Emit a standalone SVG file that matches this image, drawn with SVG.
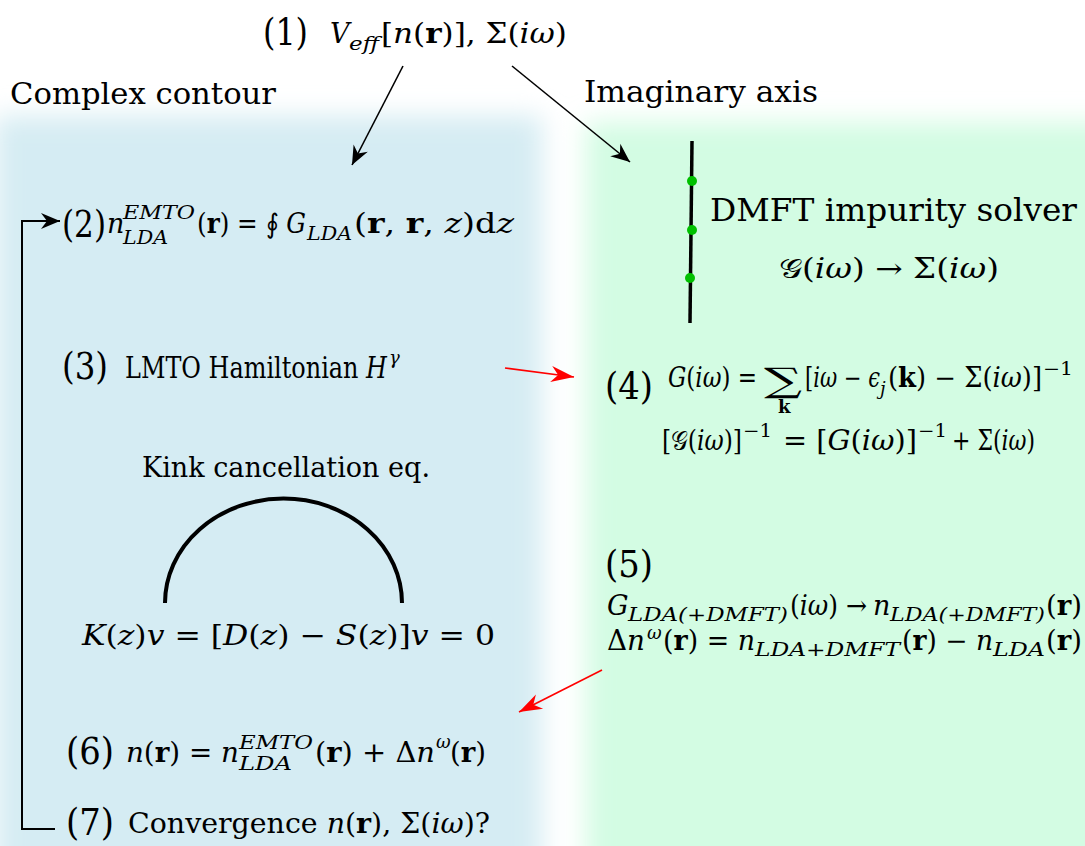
<svg xmlns="http://www.w3.org/2000/svg" width="1085" height="846" viewBox="0 0 1085 846" font-family="DejaVu Serif">
<style>
text{font-family:"DejaVu Serif","Liberation Serif",serif;fill:#000}
.i{font-style:italic}
.b{font-weight:bold}
.lbl{font-size:38px}
.m{font-size:27px}
.s{font-size:18px;font-style:italic}
.blk{stroke:#000;stroke-width:1.6;fill:none}
.red{stroke:#ff0000;stroke-width:1.6;fill:none}
</style>
<defs>
<filter id="blur" filterUnits="userSpaceOnUse" x="-100" y="0" width="1300" height="1000"><feGaussianBlur stdDeviation="13"/></filter>
<marker id="ah" viewBox="-20 -9 21 18" refX="0" refY="0" markerWidth="21" markerHeight="18" markerUnits="userSpaceOnUse" orient="auto"><path d="M0,0 L-19,-8 L-13,0 L-19,8 Z" fill="#000"/></marker>
<marker id="ahr" viewBox="-24 -9 25 18" refX="0" refY="0" markerWidth="25" markerHeight="18" markerUnits="userSpaceOnUse" orient="auto"><path d="M0,0 L-23,-8 L-16,0 L-23,8 Z" fill="#ff0000"/></marker>
</defs>
<rect width="1085" height="846" fill="#fff"/>
<g id="backgrounds" filter="url(#blur)">
<rect x="-5" y="116" width="547" height="780" fill="#d5ecf3"/>
<rect x="586" y="122" width="560" height="780" fill="#d3fce3"/>
</g>
<g id="connectors">
<line class="blk" x1="403" y1="66" x2="352" y2="165" marker-end="url(#ah)"/>
<line class="blk" x1="512" y1="66" x2="630" y2="162" marker-end="url(#ah)"/>
<line class="red" x1="505" y1="368" x2="574" y2="377" marker-end="url(#ahr)"/>
<line class="red" x1="602" y1="670" x2="519" y2="712" marker-end="url(#ahr)"/>
<path d="M55,829 H22 V221 H60" stroke="#000" stroke-width="2" fill="none" marker-end="url(#ah)"/>
</g>
<g id="n1">
<text class="lbl" x="263" y="45" textLength="45" lengthAdjust="spacingAndGlyphs">(1)</text>
<text class="m i" x="330" y="43">V</text>
<text class="s" x="349" y="50" textLength="30" lengthAdjust="spacingAndGlyphs">eff</text>
<text class="m" x="381" y="43" textLength="186" lengthAdjust="spacingAndGlyphs">[<tspan class="i">n</tspan>(<tspan class="b">r</tspan>)], Σ(<tspan class="i">iω</tspan>)</text>
</g>
<g id="labels">
<text x="10" y="104" font-size="29" textLength="266" lengthAdjust="spacingAndGlyphs">Complex contour</text>
<text x="584" y="102" font-size="29" textLength="234" lengthAdjust="spacingAndGlyphs">Imaginary axis</text>
</g>
<g id="n2">
<text class="lbl" x="62" y="237" textLength="44" lengthAdjust="spacingAndGlyphs">(2)</text>
<text class="m i" x="107" y="233">n</text>
<text class="s" x="123" y="219" textLength="72" lengthAdjust="spacingAndGlyphs">EMTO</text>
<text class="s" x="123" y="244" textLength="45" lengthAdjust="spacingAndGlyphs">LDA</text>
<text class="m" x="197" y="233" textLength="109" lengthAdjust="spacingAndGlyphs">(<tspan class="b">r</tspan>) = ∮ <tspan class="i">G</tspan></text>
<text class="s" x="307" y="240" textLength="45" lengthAdjust="spacingAndGlyphs">LDA</text>
<text class="m" x="354" y="233" textLength="160" lengthAdjust="spacingAndGlyphs">(<tspan class="b">r</tspan>, <tspan class="b">r</tspan>, <tspan class="i">z</tspan>)d<tspan class="i">z</tspan></text>
</g>
<g id="dmft">
<line x1="692" y1="141" x2="690" y2="323" stroke="#000" stroke-width="3.5"/>
<circle cx="692" cy="181" r="5" fill="#00c000"/>
<circle cx="692" cy="230" r="5" fill="#00c000"/>
<circle cx="690" cy="278" r="5" fill="#00c000"/>
<text x="710" y="221" font-size="31" textLength="367" lengthAdjust="spacingAndGlyphs">DMFT impurity solver</text>
<text class="m" x="779" y="278" textLength="220" lengthAdjust="spacingAndGlyphs">𝒢(<tspan class="i">iω</tspan>) → Σ(<tspan class="i">iω</tspan>)</text>
</g>
<g id="n3">
<text class="lbl" x="62" y="379" textLength="46" lengthAdjust="spacingAndGlyphs">(3)</text>
<text x="125" y="378" font-size="30" textLength="262" lengthAdjust="spacingAndGlyphs">LMTO Hamiltonian <tspan class="i">H</tspan></text>
<text class="s" x="389" y="364" font-size="20">γ</text>
</g>
<g id="n4">
<text class="lbl" x="605" y="399" textLength="48" lengthAdjust="spacingAndGlyphs">(4)</text>
<text class="m" x="668" y="387" textLength="89" lengthAdjust="spacingAndGlyphs"><tspan class="i">G</tspan>(<tspan class="i">iω</tspan>) =</text>
<text x="764" y="392" font-size="34" textLength="38" lengthAdjust="spacingAndGlyphs">∑</text>
<text class="b" x="778" y="413" font-size="18">k</text>
<text class="m" x="805" y="387" textLength="75" lengthAdjust="spacingAndGlyphs">[<tspan class="i">iω</tspan> − <tspan class="i">ϵ</tspan></text>
<text class="s" x="880" y="395">j</text>
<text class="m" x="888" y="387" textLength="154" lengthAdjust="spacingAndGlyphs">(<tspan class="b">k</tspan>) − Σ(<tspan class="i">iω</tspan>)]</text>
<text x="1043" y="375" font-size="18" textLength="30" lengthAdjust="spacingAndGlyphs">−1</text>
<text class="m" x="662" y="450" textLength="80" lengthAdjust="spacingAndGlyphs">[𝒢(<tspan class="i">iω</tspan>)]</text>
<text x="743" y="437" font-size="18" textLength="29" lengthAdjust="spacingAndGlyphs">−1</text>
<text class="m" x="783" y="450" textLength="134" lengthAdjust="spacingAndGlyphs">= [<tspan class="i">G</tspan>(<tspan class="i">iω</tspan>)]</text>
<text x="918" y="437" font-size="18" textLength="29" lengthAdjust="spacingAndGlyphs">−1</text>
<text class="m" x="952" y="450" textLength="83" lengthAdjust="spacingAndGlyphs">+ Σ(<tspan class="i">iω</tspan>)</text>
</g>
<g id="kink">
<text x="142" y="477" font-size="27" textLength="288" lengthAdjust="spacingAndGlyphs">Kink cancellation eq.</text>
<path d="M165,603 A118,104 0 0 1 402,603" stroke="#000" stroke-width="4" fill="none"/>
<text x="82" y="645" font-size="28" textLength="413" lengthAdjust="spacingAndGlyphs"><tspan class="i">K</tspan>(<tspan class="i">z</tspan>)<tspan class="i">v</tspan> = [<tspan class="i">D</tspan>(<tspan class="i">z</tspan>) − <tspan class="i">S</tspan>(<tspan class="i">z</tspan>)]<tspan class="i">v</tspan> = 0</text>
</g>
<g id="n5">
<text class="lbl" x="605" y="577" textLength="48" lengthAdjust="spacingAndGlyphs">(5)</text>
<text class="m i" x="607" y="615">G</text>
<text class="s" x="628" y="621" textLength="160" lengthAdjust="spacingAndGlyphs">LDA(+DMFT)</text>
<text class="m" x="790" y="615" textLength="77" lengthAdjust="spacingAndGlyphs">(<tspan class="i">iω</tspan>) →</text>
<text class="m i" x="873" y="615">n</text>
<text class="s" x="890" y="621" textLength="155" lengthAdjust="spacingAndGlyphs">LDA(+DMFT)</text>
<text class="m" x="1046" y="615" textLength="36" lengthAdjust="spacingAndGlyphs">(<tspan class="b">r</tspan>)</text>
<text class="m" x="607" y="650" textLength="38" lengthAdjust="spacingAndGlyphs">Δ<tspan class="i">n</tspan></text>
<text class="s" x="647" y="639">ω</text>
<text class="m" x="663" y="650" textLength="92" lengthAdjust="spacingAndGlyphs">(<tspan class="b">r</tspan>) = <tspan class="i">n</tspan></text>
<text class="s" x="755" y="656" textLength="145" lengthAdjust="spacingAndGlyphs">LDA+DMFT</text>
<text class="m" x="902" y="650" textLength="91" lengthAdjust="spacingAndGlyphs">(<tspan class="b">r</tspan>) − <tspan class="i">n</tspan></text>
<text class="s" x="993" y="656" textLength="52" lengthAdjust="spacingAndGlyphs">LDA</text>
<text class="m" x="1046" y="650" textLength="36" lengthAdjust="spacingAndGlyphs">(<tspan class="b">r</tspan>)</text>
</g>
<g id="n6">
<text class="lbl" x="66" y="764" textLength="48" lengthAdjust="spacingAndGlyphs">(6)</text>
<text class="m" x="126" y="762" textLength="113" lengthAdjust="spacingAndGlyphs"><tspan class="i">n</tspan>(<tspan class="b">r</tspan>) = <tspan class="i">n</tspan></text>
<text class="s" x="239" y="749" textLength="74" lengthAdjust="spacingAndGlyphs">EMTO</text>
<text class="s" x="239" y="770" textLength="53" lengthAdjust="spacingAndGlyphs">LDA</text>
<text class="m" x="315" y="762" textLength="120" lengthAdjust="spacingAndGlyphs">(<tspan class="b">r</tspan>) + Δ<tspan class="i">n</tspan></text>
<text class="s" x="436" y="748">ω</text>
<text class="m" x="450" y="762" textLength="36" lengthAdjust="spacingAndGlyphs">(<tspan class="b">r</tspan>)</text>
</g>
<g id="n7">
<text class="lbl" x="66" y="835" textLength="48" lengthAdjust="spacingAndGlyphs">(7)</text>
<text x="128" y="833" font-size="28" textLength="362" lengthAdjust="spacingAndGlyphs">Convergence <tspan class="i">n</tspan>(<tspan class="b">r</tspan>), Σ(<tspan class="i">iω</tspan>)?</text>
</g>
</svg>
